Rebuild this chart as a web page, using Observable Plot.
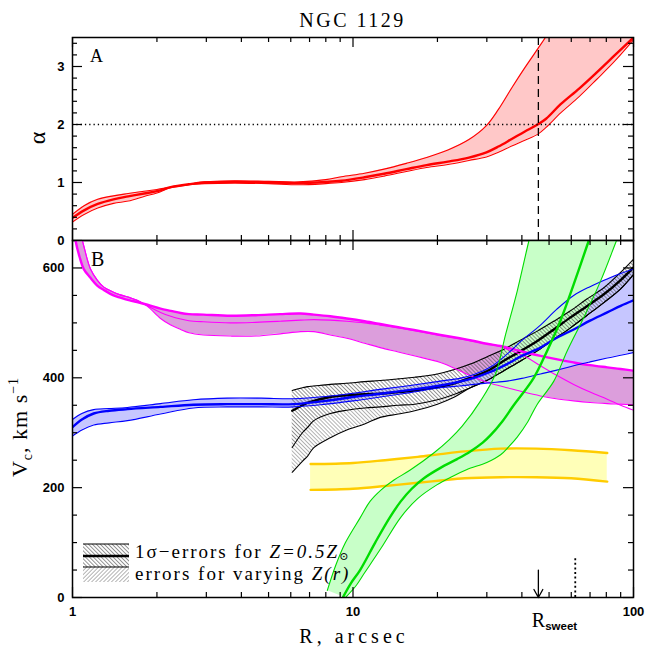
<!DOCTYPE html>
<html><head><meta charset="utf-8">
<script src="https://cdn.jsdelivr.net/npm/d3@7"></script>
<script src="https://cdn.jsdelivr.net/npm/@observablehq/plot@0.6"></script>
<style>
html,body{margin:0;padding:0;background:#fff;}
#wrap{position:relative;width:669px;height:669px;overflow:hidden;background:#fff;}
#wrap svg{position:absolute;left:0;overflow:visible;}
</style></head><body><div id="wrap"></div>
<script>
// ---------- Panel A: alpha ----------
const redR   = [1.0, 1.1, 1.23, 1.4, 1.58, 1.8, 2.0, 2.24, 2.6, 2.96, 3.78, 5, 6.4, 8, 9.1, 11, 12.9, 15.5, 18.3, 21.8, 25.9, 29.9, 33, 36.8, 41, 45.5, 48.8, 55, 64, 74, 86, 100];
const redUp  = [0.45, 0.60, 0.71, 0.77, 0.81, 0.85, 0.88, 0.92, 0.97, 1.01, 1.03, 1.02, 1.01, 1.05, 1.10, 1.16, 1.23, 1.33, 1.43, 1.56, 1.74, 1.98, 2.26, 2.63, 2.98, 3.30, 3.52, 3.95, 4.5, 5.1, 5.8, 6.5];
const redMid = [0.39, 0.52, 0.63, 0.71, 0.76, 0.81, 0.85, 0.92, 0.97, 1.00, 1.01, 1.00, 0.99, 1.01, 1.03, 1.09, 1.15, 1.23, 1.30, 1.36, 1.43, 1.52, 1.62, 1.75, 1.88, 2.00, 2.10, 2.35, 2.62, 2.90, 3.20, 3.50];
const redLow = [0.32, 0.45, 0.56, 0.64, 0.68, 0.76, 0.82, 0.91, 0.96, 0.98, 0.99, 0.98, 0.96, 0.98, 1.00, 1.05, 1.11, 1.19, 1.26, 1.31, 1.38, 1.44, 1.52, 1.63, 1.73, 1.83, 1.95, 2.20, 2.48, 2.78, 3.10, 3.46];
const alphaRef = [2];
const rSweet = 45.8;
const rDotted = 62;
const dottedTop = 74;
const arrowTop = 50;

// ---------- Panel B: Vc ----------
const magR   = [1.0, 1.025, 1.06, 1.097, 1.159, 1.225, 1.293, 1.40, 1.48, 1.6, 1.7, 1.85, 2.06, 2.24, 2.43, 2.6, 2.93, 3.66, 4.5, 5.5, 6.5, 7.25, 8.3, 9.5, 11, 12.5, 14.5, 16.5, 20.5, 24, 27, 30, 33.6, 35.4, 40.6, 46.6, 53, 61.2, 70, 80.6, 90, 100];
const magUp  = [690, 650, 620, 598, 582, 568, 560, 550, 546, 541, 538, 533, 526, 522, 518, 516, 515, 513, 514, 516, 517, 515, 512, 508, 503, 498, 492, 487, 478, 472, 467, 462, 458, 455, 447, 440, 434, 428, 423, 419, 416, 413];
const magMid = [740, 710, 672, 640, 598, 578, 565, 556, 551, 546, 541, 531, 519, 512, 507, 504, 502, 500, 501, 503, 505, 506, 505, 503, 500, 496, 491, 486, 477, 471, 466, 462, 457, 452, 440, 422, 405, 388, 374, 361, 350, 341];
const magLow = [740, 710, 672, 640, 598, 578, 565, 556, 551, 546, 541, 530, 508, 496, 488, 482, 478, 476, 476, 480, 484, 484, 478, 472, 463, 455, 447, 440, 428, 413, 401, 392, 385, 382, 374, 367, 362, 358, 355, 353, 352, 351];

const blueR   = [1.0, 1.08, 1.19, 1.35, 1.57, 2.06, 2.7, 3.56, 4.7, 6.15, 8, 10, 12.5, 16, 20.5, 24, 27, 31, 35.4, 40, 46.6, 53.3, 61.2, 70, 80.6, 90, 100];
const blueUp  = [324, 335, 342, 344, 346, 353, 360, 363, 363, 362, 366, 372, 379, 386, 394, 399, 406, 420, 443, 468, 496, 525, 550, 566, 580, 590, 598];
const blueMid = [310, 324, 335, 340, 343, 347, 351, 352, 352, 352, 358, 365, 371, 378, 386, 393, 400, 411, 425, 440, 455, 473, 488, 504, 519, 531, 541];
const blueLow = [294, 305, 314, 318, 322, 334, 345, 347, 347, 347, 352, 358, 365, 373, 382, 385, 388, 391, 394, 399, 407, 414, 422, 429, 436, 441, 446];

const blkR      = [6.07, 6.6, 6.9, 7.25, 8.3, 9.5, 11, 12.5, 14.5, 16.6, 20, 23, 26.2, 30, 34.5, 40, 45.4, 52, 59.6, 68, 78.4, 90, 100];
const blkUp     = [377, 382, 384, 385, 388, 390, 393, 395, 398, 401, 407, 415, 425, 438, 452, 470, 485, 503, 522, 543, 564, 592, 616];
const blkMid    = [340, 350, 355, 358, 365, 368, 370, 371, 374, 377, 383, 390, 400, 412, 431, 450, 467, 488, 510, 530, 552, 578, 601];
const blkLow    = [273, 300, 310, 322, 335, 341, 345, 347, 350, 352, 360, 370, 382, 395, 413, 432, 449, 470, 491, 513, 537, 562, 588];
const blkLowest = [228, 248, 258, 273, 291, 305, 316, 328, 334, 340, 352, 365, 382, 395, 413, 432, 449, 470, 491, 513, 537, 562, 588];

const yelR   = [7.06, 10, 13, 17, 20.5, 25, 33.6, 45, 60, 80.6];
const yelUp  = [243, 245, 250, 256, 261, 266, 271, 271, 268, 263];
const yelLow = [196, 198, 203, 209, 213, 217, 219, 219, 217, 211];

const grnLeftR  = [8.1, 8.7, 9.4, 10.6, 11.5, 12.6, 14, 16, 19.4, 22, 24.5, 28.5, 32.2, 35.0, 38.5, 42.4, 45];
const grnLeftV  = [13, 60, 100, 145, 175, 196, 214, 232, 263, 287, 312, 358, 407, 479, 558, 650, 700];
const grnMidR   = [9.2, 9.8, 10.6, 12.0, 13.5, 14.8, 16.2, 18.0, 20.5, 23.5, 26.2, 29, 31, 34, 37.4, 44.1, 49.2, 54.9, 61.2, 69.3, 75];
const grnMidV   = [0, 25, 50, 100, 145, 175, 198, 218, 236, 252, 266, 282, 296, 320, 350, 400, 449, 504, 570, 650, 700];
const grnRightR = [9.4, 10.2, 11, 12.6, 14.8, 17, 19.9, 22.5, 25.5, 30, 33.6, 36, 38.5, 42, 45.4, 52, 58, 66.5, 76.3, 87, 95];
const grnRightV = [0, 20, 45, 90, 146, 180, 205, 220, 233, 246, 260, 275, 292, 320, 352, 394, 449, 510, 576, 650, 700];

// ticks / labels
const xMajor = [1, 10, 100];
const xMinor = [2, 3, 4, 5, 6, 7, 8, 9, 20, 30, 40, 50, 60, 70, 80, 90];
const xLabels = [1, 10, 100];
const aMajor = [0, 1, 2, 3];
const aMinor = [0.2, 0.4, 0.6, 0.8, 1.2, 1.4, 1.6, 1.8, 2.2, 2.4, 2.6, 2.8, 3.2, 3.4];
const vMajor = [0, 200, 400, 600];
const vMinor = [50, 100, 150, 250, 300, 350, 450, 500, 550];

// ---------- build tables ----------
const red = redR.map((R, i) => ({R, up: redUp[i], mid: redMid[i], low: redLow[i]}));
const mag = magR.map((R, i) => ({R, up: magUp[i], mid: magMid[i], low: magLow[i]}));
const blue = blueR.map((R, i) => ({R, up: blueUp[i], mid: blueMid[i], low: blueLow[i]}));
const blk = blkR.map((R, i) => ({R, up: blkUp[i], mid: blkMid[i], low: blkLow[i], lowest: blkLowest[i]}));
const yel = yelR.map((R, i) => ({R, up: yelUp[i], low: yelLow[i]}));
const gL = grnLeftR.map((R, i) => ({R, V: grnLeftV[i]}));
const gM = grnMidR.map((R, i) => ({R, V: grnMidV[i]}));
const gR = grnRightR.map((R, i) => ({R, V: grnRightV[i]}));
const gPoly = gL.concat(gR.slice().reverse());

const W = 669, ML = 72, MR = 36;
const FW = W - ML - MR;
const serif = "Liberation Serif, DejaVu Serif, serif";
const sans = "Liberation Sans, Arial, sans-serif";
const C = "catmull-rom";

function frameTicks(fh, yMaj, yMin) {
  const k = {stroke: "black", strokeWidth: 1.2};
  return [
    Plot.ruleX(xMajor, {x: d => d, insetTop: fh - 10, ...k}),
    Plot.ruleX(xMinor, {x: d => d, insetTop: fh - 5, ...k}),
    Plot.ruleX(xMajor, {x: d => d, insetBottom: fh - 10, ...k}),
    Plot.ruleX(xMinor, {x: d => d, insetBottom: fh - 5, ...k}),
    Plot.ruleY(yMaj, {y: d => d, insetRight: FW - 10, ...k}),
    Plot.ruleY(yMin, {y: d => d, insetRight: FW - 5, ...k}),
    Plot.ruleY(yMaj, {y: d => d, insetLeft: FW - 10, ...k}),
    Plot.ruleY(yMin, {y: d => d, insetLeft: FW - 5, ...k}),
    Plot.frame({stroke: "black", strokeWidth: 1.5})
  ];
}

const thin = 1.1, thick = 2.4;

const topPlot = Plot.plot({
  width: W, height: 240, marginTop: 37, marginBottom: 0, marginLeft: ML, marginRight: MR,
  x: {type: "log", domain: [1, 100], axis: null},
  y: {domain: [0, 3.5], axis: null},
  style: {background: "none", overflow: "visible", fontFamily: sans},
  marks: [
    Plot.areaY(red, {x: "R", y1: "low", y2: "up", fill: "#ffc8c8", curve: C, clip: true}),
    Plot.line(red, {x: "R", y: "up", stroke: "#ff0000", strokeWidth: thin, curve: C, clip: true}),
    Plot.line(red, {x: "R", y: "low", stroke: "#ff0000", strokeWidth: thin, curve: C, clip: true}),
    Plot.line(red, {x: "R", y: "mid", stroke: "#ff0000", strokeWidth: thick, curve: C, clip: true}),
    Plot.ruleY(alphaRef, {y: d => d, stroke: "black", strokeWidth: 1.3, strokeDasharray: "1.3,3"}),
    Plot.ruleX([rSweet], {x: d => d, y1: 0, y2: 3.5, stroke: "black", strokeWidth: 1.3, strokeDasharray: "8,5"}),
    ...frameTicks(203, aMajor, aMinor),
    Plot.axisY(aMajor, {anchor: "left", tickSize: 0, tickPadding: 8, label: null, tickFormat: d => String(d), fontSize: 13, fontWeight: "bold", fontFamily: sans})
  ]
});

const botPlot = Plot.plot({
  width: W, height: 429, marginTop: 0, marginBottom: 72, marginLeft: ML, marginRight: MR,
  x: {type: "log", domain: [1, 100], axis: null},
  y: {domain: [0, 650], axis: null},
  style: {background: "none", overflow: "visible", fontFamily: sans},
  marks: [
    Plot.areaY(mag, {x: "R", y1: "low", y2: "up", fill: "#dc9edc", curve: C, clip: true}),
    Plot.areaY(blue, {x: "R", y1: "low", y2: "up", fill: "#c6c6ff", curve: C, clip: true}),
    Plot.areaY(yel, {x: "R", y1: "low", y2: "up", fill: "#ffffb8", curve: C, clip: true}),
    Plot.line(gPoly, {x: "R", y: "V", fill: "#c8ffc8", stroke: "none", curve: C, clip: true}),
    Plot.areaY(blk, {x: "R", y1: "lowest", y2: "low", fill: "url(#hatchLight)", curve: C, clip: true}),
    Plot.areaY(blk, {x: "R", y1: "low", y2: "up", fill: "url(#hatchDark)", curve: C, clip: true}),
    Plot.line(blk, {x: "R", y: "up", stroke: "black", strokeWidth: thin, curve: C, clip: true}),
    Plot.line(blk, {x: "R", y: "low", stroke: "black", strokeWidth: thin, curve: C, clip: true}),
    Plot.line(blk, {x: "R", y: "lowest", stroke: "black", strokeWidth: thin, curve: C, clip: true}),
    Plot.line(blk, {x: "R", y: "mid", stroke: "black", strokeWidth: thick, curve: C, clip: true}),
    Plot.line(mag, {x: "R", y: "low", stroke: "#ff00ff", strokeWidth: thin, curve: C, clip: true}),
    Plot.line(mag, {x: "R", y: "mid", stroke: "#ff00ff", strokeWidth: thin, curve: C, clip: true}),
    Plot.line(mag, {x: "R", y: "up", stroke: "#ff00ff", strokeWidth: thick, curve: C, clip: true}),
    Plot.line(blue, {x: "R", y: "up", stroke: "#0000ff", strokeWidth: thin, curve: C, clip: true}),
    Plot.line(blue, {x: "R", y: "low", stroke: "#0000ff", strokeWidth: thin, curve: C, clip: true}),
    Plot.line(blue, {x: "R", y: "mid", stroke: "#0000ff", strokeWidth: thick, curve: C, clip: true}),
    Plot.line(yel, {x: "R", y: "up", stroke: "#ffcc00", strokeWidth: 2.4, curve: C, clip: true}),
    Plot.line(yel, {x: "R", y: "low", stroke: "#ffcc00", strokeWidth: 2.4, curve: C, clip: true}),
    Plot.line(gL, {x: "R", y: "V", stroke: "#00dd00", strokeWidth: thin, curve: C, clip: true}),
    Plot.line(gR, {x: "R", y: "V", stroke: "#00dd00", strokeWidth: thin, curve: C, clip: true}),
    Plot.line(gM, {x: "R", y: "V", stroke: "#00dd00", strokeWidth: thick, curve: C, clip: true}),
    Plot.arrow([rSweet], {x1: d => d, x2: d => d, y1: arrowTop, y2: 0, stroke: "black", strokeWidth: 1.3, headLength: 11.5, headAngle: 58}),
    Plot.ruleX([rDotted], {x: d => d, y1: 0, y2: dottedTop, stroke: "black", strokeWidth: 1.8, strokeDasharray: "2,2.6"}),
    ...frameTicks(357, vMajor, vMinor),
    Plot.axisY(vMajor, {anchor: "left", tickSize: 0, tickPadding: 8, label: null, tickFormat: d => String(d), fontSize: 13, fontWeight: "bold", fontFamily: sans}),
    Plot.axisX(xLabels, {anchor: "bottom", tickSize: 0, tickPadding: 9, label: null, tickFormat: d => String(d), fontSize: 13, fontWeight: "bold", fontFamily: sans})
  ]
});

const wrap = document.getElementById("wrap");
topPlot.style.top = "0px";
botPlot.style.top = "240px";
wrap.appendChild(topPlot);
wrap.appendChild(botPlot);

// ---------- annotations ----------
const sT = d3.select(topPlot), sB = d3.select(botPlot);
const xB = botPlot.scale("x");

sT.append("text").attr("x", 352.5).attr("y", 27).attr("text-anchor", "middle")
  .style("font-family", serif).style("font-size", "20px").style("letter-spacing", "2.5px").text("NGC 1129");
sT.append("text").attr("x", 90).attr("y", 62).attr("text-anchor", "start")
  .style("font-family", serif).style("font-size", "18px").text("A");
sT.append("text").attr("transform", "translate(45,138) rotate(-90)").attr("text-anchor", "middle")
  .style("font-family", serif).style("font-size", "24px").text("α");

sB.append("text").attr("x", 91).attr("y", 26).attr("text-anchor", "start")
  .style("font-family", serif).style("font-size", "20px").text("B");

const vl = sB.append("text").attr("transform", `translate(27,${427 - 240}) rotate(-90)`).attr("text-anchor", "middle")
  .style("font-family", serif).style("font-size", "22px").style("letter-spacing", "1px");
vl.append("tspan").text("V");
vl.append("tspan").attr("dy", 5).style("font-size", "14px").text("c");
vl.append("tspan").attr("dy", -5).text(", km s");
vl.append("tspan").attr("dy", -9).style("font-size", "14px").text("−1");

sB.append("text").attr("x", 354).attr("y", 403).attr("text-anchor", "middle")
  .style("font-family", serif).style("font-size", "20px").style("letter-spacing", "4px").text("R, arcsec");

const rs = sB.append("text").attr("x", xB.apply(rSweet) - 6).attr("y", 387).attr("text-anchor", "start");
rs.append("tspan").style("font-family", serif).style("font-size", "20px").text("R");
rs.append("tspan").attr("dy", 3).style("font-family", sans).style("font-weight", "bold").style("font-size", "11.5px").text("sweet");

// hatch patterns
const defs = sB.insert("defs", ":first-child");
function hatch(id, angle, color) {
  const p = defs.append("pattern").attr("id", id).attr("patternUnits", "userSpaceOnUse")
    .attr("width", 2.8).attr("height", 10).attr("patternTransform", `rotate(${angle})`);
  p.append("line").attr("x1", 1.4).attr("x2", 1.4).attr("y1", 0).attr("y2", 10)
    .attr("stroke", color).attr("stroke-width", 0.65);
}
hatch("hatchDark", -45, "#555");
hatch("hatchLight", -45, "#888");
hatch("hatchLegendLight", 45, "#888");

// legend
const lg = sB.append("g");
lg.append("rect").attr("x", 83).attr("y", 304).attr("width", 46).attr("height", 23).attr("fill", "url(#hatchDark)");
lg.append("rect").attr("x", 83).attr("y", 327).attr("width", 46).attr("height", 15).attr("fill", "url(#hatchLegendLight)");
[[304, thin], [316, thick], [327, thin]].forEach(([y, w]) =>
  lg.append("line").attr("x1", 83).attr("x2", 129).attr("y1", y).attr("y2", y).attr("stroke", "black").attr("stroke-width", w));
const t1 = lg.append("text").attr("x", 135).attr("y", 318).attr("text-anchor", "start").style("font-family", serif).style("font-size", "19px").style("letter-spacing", "2px");
t1.append("tspan").text("1σ−errors for ");
t1.append("tspan").style("font-style", "italic").text("Z=0.5Z");
t1.append("tspan").attr("dy", 2).style("font-size", "11px").text("⊙");
const t2 = lg.append("text").attr("x", 135).attr("y", 340).attr("text-anchor", "start").style("font-family", serif).style("font-size", "19px").style("letter-spacing", "2px");
t2.append("tspan").text("errors for varying ");
t2.append("tspan").style("font-style", "italic").text("Z(r)");
</script>
</body></html>
